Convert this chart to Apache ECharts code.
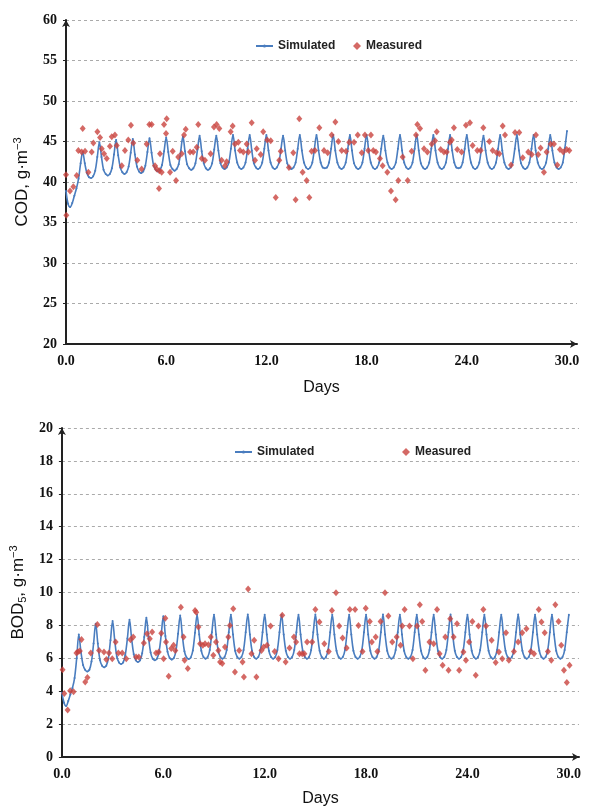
<!DOCTYPE html>
<html>
<head>
<meta charset="utf-8">
<script src="https://cdn.jsdelivr.net/npm/echarts@6/dist/echarts.min.js"></script>
<style>
html,body{margin:0;padding:0;background:#fff;}
#chart{width:592px;height:809px;}
</style>
</head>
<body>
<div id="chart"></div>
<script>
// ---- Data ----
const seriesNames = ['Simulated', 'Measured'];
const xTickLabels = ['0.0', '6.0', '12.0', '18.0', '24.0', '30.0'];
const simStepDays = 0.125; // simulated output every 3 hours

// COD simulated, 8 values per day (day 0 ... day 30)
const codSimulated = [
  38.9, 37.3, 36.9, 37.4, 38.3, 39.2, 40.4, 42.3,
  43.7, 42.3, 41.1, 40.6, 40.5, 40.7, 41.4, 43.1,
  44.9, 43.1, 41.5, 41.0, 40.8, 41.0, 41.7, 43.4,
  45.2, 43.3, 41.8, 41.2, 41.0, 41.2, 41.9, 43.6,
  45.3, 43.4, 41.9, 41.3, 41.1, 41.3, 42.0, 43.7,
  45.4, 43.6, 42.0, 41.5, 41.3, 41.5, 42.1, 43.8,
  45.5, 43.7, 42.1, 41.6, 41.4, 41.6, 42.2, 43.9,
  45.6, 43.8, 42.2, 41.7, 41.5, 41.7, 42.3, 44.0,
  45.7, 43.8, 42.3, 41.7, 41.5, 41.7, 42.3, 44.0,
  45.7, 43.9, 42.3, 41.8, 41.6, 41.8, 42.4, 44.1,
  45.8, 43.9, 42.4, 41.8, 41.6, 41.8, 42.4, 44.1,
  45.8, 43.9, 42.3, 41.8, 41.6, 41.8, 42.4, 44.1,
  45.8, 43.9, 42.4, 41.8, 41.6, 41.8, 42.4, 44.1,
  45.7, 43.9, 42.3, 41.8, 41.6, 41.8, 42.4, 44.1,
  45.8, 43.9, 42.4, 41.8, 41.6, 41.8, 42.4, 44.1,
  45.8, 43.9, 42.4, 41.8, 41.7, 41.8, 42.4, 44.1,
  45.8, 43.9, 42.4, 41.8, 41.6, 41.8, 42.4, 44.1,
  45.8, 43.9, 42.3, 41.8, 41.6, 41.8, 42.4, 44.1,
  45.8, 43.9, 42.4, 41.8, 41.6, 41.8, 42.4, 44.1,
  45.7, 43.9, 42.4, 41.8, 41.6, 41.8, 42.4, 44.1,
  45.8, 43.9, 42.4, 41.8, 41.6, 41.8, 42.4, 44.1,
  45.8, 43.9, 42.3, 41.8, 41.6, 41.8, 42.4, 44.1,
  45.8, 43.9, 42.4, 41.8, 41.6, 41.8, 42.4, 44.1,
  45.8, 43.9, 42.4, 41.8, 41.7, 41.8, 42.4, 44.1,
  45.8, 43.9, 42.4, 41.8, 41.6, 41.8, 42.4, 44.1,
  45.7, 43.9, 42.4, 41.8, 41.6, 41.8, 42.4, 44.1,
  45.8, 43.9, 42.4, 41.8, 41.6, 41.8, 42.4, 44.1,
  45.8, 43.9, 42.3, 41.8, 41.6, 41.8, 42.4, 44.1,
  45.8, 43.9, 42.4, 41.8, 41.6, 41.8, 42.4, 44.1,
  45.8, 43.9, 42.4, 41.8, 41.6, 41.8, 42.4, 44.2,
  46.3
];

// COD measured: sampling day and value
const codMeasuredDays = [
  0.00, 0.02, 0.24, 0.44, 0.64, 0.74, 0.94, 1.00, 1.14, 1.34, 1.54, 1.64, 1.88, 2.04, 2.14, 2.28,
  2.44, 2.63, 2.74, 2.93, 3.04, 3.34, 3.53, 3.73, 3.89, 4.03, 4.27, 4.53, 4.83, 4.99, 5.13, 5.33,
  5.43, 5.57, 5.59, 5.63, 5.73, 5.87, 5.99, 6.03, 6.23, 6.39, 6.59, 6.72, 6.93, 7.07, 7.17, 7.43,
  7.62, 7.83, 7.92, 8.13, 8.32, 8.66, 8.86, 9.02, 9.18, 9.32, 9.52, 9.62, 9.86, 9.98, 10.12, 10.32,
  10.42, 10.62, 10.82, 10.92, 11.12, 11.32, 11.42, 11.66, 11.81, 12.05, 12.26, 12.56, 12.77, 12.86, 13.35, 13.61,
  13.75, 13.97, 14.17, 14.41, 14.57, 14.71, 14.91, 15.17, 15.45, 15.67, 15.91, 16.13, 16.31, 16.51, 16.77, 16.96,
  17.25, 17.47, 17.71, 17.90, 18.10, 18.26, 18.40, 18.56, 18.80, 18.96, 19.24, 19.46, 19.74, 19.90, 20.16, 20.46,
  20.70, 20.96, 21.04, 21.20, 21.44, 21.64, 21.90, 22.10, 22.20, 22.44, 22.63, 22.80, 22.99, 23.10, 23.23, 23.43,
  23.69, 23.95, 24.19, 24.35, 24.63, 24.83, 24.99, 25.35, 25.55, 25.79, 25.95, 26.15, 26.29, 26.65, 26.89, 27.14,
  27.35, 27.68, 27.89, 28.14, 28.28, 28.42, 28.62, 28.78, 29.02, 29.22, 29.42, 29.58, 29.78, 29.98, 30.14
];
const codMeasured = [
  40.9, 35.9, 38.9, 39.4, 40.8, 43.9, 43.7, 46.6, 43.8, 41.2, 43.7, 44.8, 46.2, 45.5, 44.1, 43.5,
  42.9, 44.4, 45.6, 45.8, 44.5, 42.0, 43.9, 45.2, 47.0, 44.8, 42.7, 41.6, 44.7, 47.1, 47.1, 42.0,
  41.6, 39.2, 41.4, 43.5, 41.2, 47.1, 46.0, 47.8, 41.2, 43.8, 40.2, 43.1, 43.5, 45.8, 46.5, 43.7,
  43.7, 44.3, 47.1, 42.9, 42.7, 43.5, 46.8, 47.1, 46.6, 42.7, 42.0, 42.5, 46.2, 46.9, 44.7, 44.9,
  43.9, 43.7, 44.7, 43.7, 47.3, 42.7, 44.1, 43.4, 46.2, 45.2, 45.1, 38.1, 42.7, 43.8, 41.8, 43.6,
  37.8, 47.8, 41.2, 40.2, 38.1, 43.8, 43.9, 46.7, 43.9, 43.6, 45.8, 47.4, 45.0, 43.9, 43.8, 44.9,
  44.9, 45.8, 43.6, 45.8, 43.9, 45.8, 43.9, 43.7, 42.9, 42.0, 41.2, 38.9, 37.8, 40.2, 43.1, 40.2,
  43.8, 45.8, 47.1, 46.6, 44.1, 43.7, 44.7, 45.1, 46.2, 44.0, 43.7, 43.7, 44.9, 45.2, 46.7, 44.0,
  43.7, 47.0, 47.3, 44.5, 43.9, 43.9, 46.7, 45.0, 43.9, 43.6, 43.5, 46.9, 45.8, 42.1, 46.1, 46.1,
  43.0, 43.7, 43.4, 45.8, 43.4, 44.2, 41.2, 43.7, 44.7, 44.7, 42.1, 44.0, 43.7, 44.0, 43.9
];

// BOD5 simulated, 8 values per day (day 0 ... day 30)
const bodSimulated = [
  3.90, 3.30, 3.10, 3.40, 3.80, 4.20, 4.80, 6.00,
  7.45, 6.40, 5.60, 5.30, 5.20, 5.30, 5.80, 6.90,
  8.10, 6.90, 5.90, 5.55, 5.45, 5.55, 6.00, 7.10,
  8.26, 7.10, 6.10, 5.75, 5.65, 5.75, 6.20, 7.20,
  8.34, 7.20, 6.25, 5.88, 5.78, 5.88, 6.30, 7.30,
  8.47, 7.30, 6.35, 5.98, 5.88, 5.98, 6.40, 7.40,
  8.55, 7.35, 6.40, 6.02, 5.92, 6.02, 6.45, 7.50,
  8.60, 7.40, 6.43, 6.05, 5.95, 6.05, 6.48, 7.55,
  8.65, 7.45, 6.46, 6.08, 5.98, 6.08, 6.50, 7.58,
  8.65, 7.45, 6.46, 6.08, 5.98, 6.08, 6.50, 7.58,
  8.65, 7.45, 6.46, 6.08, 5.98, 6.08, 6.50, 7.58,
  8.66, 7.45, 6.46, 6.08, 5.98, 6.08, 6.50, 7.58,
  8.65, 7.45, 6.46, 6.08, 5.98, 6.08, 6.50, 7.58,
  8.65, 7.45, 6.46, 6.08, 5.98, 6.08, 6.50, 7.58,
  8.65, 7.45, 6.46, 6.08, 5.98, 6.08, 6.50, 7.58,
  8.66, 7.45, 6.46, 6.08, 5.98, 6.08, 6.50, 7.58,
  8.65, 7.45, 6.46, 6.08, 5.98, 6.08, 6.50, 7.58,
  8.65, 7.45, 6.46, 6.08, 5.98, 6.08, 6.50, 7.58,
  8.65, 7.45, 6.46, 6.08, 5.98, 6.08, 6.50, 7.58,
  8.66, 7.45, 6.46, 6.08, 5.98, 6.08, 6.50, 7.58,
  8.65, 7.45, 6.46, 6.08, 5.98, 6.08, 6.50, 7.58,
  8.65, 7.45, 6.46, 6.08, 5.98, 6.08, 6.50, 7.58,
  8.65, 7.45, 6.46, 6.08, 5.98, 6.08, 6.50, 7.58,
  8.66, 7.45, 6.46, 6.08, 5.98, 6.08, 6.50, 7.58,
  8.65, 7.45, 6.46, 6.08, 5.98, 6.08, 6.50, 7.58,
  8.65, 7.45, 6.46, 6.08, 5.98, 6.08, 6.50, 7.58,
  8.65, 7.45, 6.46, 6.08, 5.98, 6.08, 6.50, 7.58,
  8.66, 7.45, 6.46, 6.08, 5.98, 6.08, 6.50, 7.58,
  8.65, 7.45, 6.46, 6.08, 5.98, 6.08, 6.50, 7.58,
  8.65, 7.45, 6.46, 6.08, 5.98, 6.08, 6.50, 7.58,
  8.65
];

// BOD5 measured: sampling day and value
const bodMeasuredDays = [
  0.04, 0.14, 0.34, 0.49, 0.69, 0.86, 0.95, 1.06, 1.16, 1.38, 1.51, 1.71, 2.10, 2.20, 2.49, 2.63,
  2.79, 2.98, 3.18, 3.34, 3.57, 3.81, 4.06, 4.22, 4.39, 4.55, 4.85, 5.04, 5.20, 5.34, 5.57, 5.73,
  5.88, 6.02, 6.12, 6.16, 6.32, 6.47, 6.61, 6.71, 7.04, 7.20, 7.26, 7.45, 7.88, 7.95, 8.08, 8.18,
  8.34, 8.47, 8.67, 8.81, 8.96, 9.12, 9.26, 9.36, 9.49, 9.65, 9.85, 9.94, 10.14, 10.24, 10.49, 10.69,
  10.77, 11.02, 11.22, 11.38, 11.51, 11.81, 11.94, 12.14, 12.35, 12.59, 12.82, 13.04, 13.24, 13.47, 13.73, 13.86,
  14.06, 14.22, 14.35, 14.51, 14.81, 15.00, 15.24, 15.53, 15.79, 15.98, 16.22, 16.41, 16.61, 16.85, 17.04, 17.35,
  17.55, 17.79, 17.98, 18.22, 18.34, 18.57, 18.67, 18.86, 19.12, 19.32, 19.55, 19.81, 20.04, 20.14, 20.28, 20.57,
  20.77, 21.02, 21.18, 21.32, 21.51, 21.75, 22.00, 22.20, 22.35, 22.53, 22.69, 22.88, 22.98, 23.18, 23.38, 23.51,
  23.76, 23.91, 24.10, 24.29, 24.49, 24.65, 24.94, 25.10, 25.43, 25.67, 25.86, 26.06, 26.28, 26.45, 26.75, 27.00,
  27.24, 27.49, 27.75, 27.94, 28.22, 28.38, 28.57, 28.76, 28.96, 29.20, 29.39, 29.55, 29.71, 29.88, 30.04
];
const bodMeasured = [
  5.30, 3.86, 2.85, 4.02, 3.96, 6.32, 6.40, 6.44, 7.15, 4.56, 4.83, 6.32, 8.06, 6.48, 6.38, 5.92,
  6.32, 5.98, 6.99, 6.32, 6.32, 5.98, 7.13, 7.29, 6.08, 6.08, 6.93, 7.50, 7.19, 7.60, 6.32, 6.38,
  7.53, 5.98, 8.44, 6.99, 4.91, 6.59, 6.79, 6.48, 9.11, 7.29, 5.88, 5.38, 8.91, 8.80, 7.90, 6.89,
  6.79, 6.89, 6.83, 7.29, 6.18, 6.99, 6.48, 5.78, 5.68, 6.69, 7.29, 8.00, 9.01, 5.17, 6.48, 5.78,
  4.87, 10.22, 6.28, 7.09, 4.87, 6.48, 6.69, 6.79, 7.96, 6.42, 5.98, 8.61, 5.78, 6.63, 7.29, 6.99,
  6.28, 6.28, 6.28, 6.99, 6.99, 8.97, 8.20, 6.89, 6.42, 8.91, 9.98, 7.96, 7.23, 6.63, 8.97, 8.97,
  8.00, 6.42, 9.05, 8.24, 6.99, 7.29, 6.42, 8.24, 9.98, 8.57, 6.99, 7.29, 6.79, 7.96, 8.97, 7.96,
  5.98, 7.96, 9.25, 8.24, 5.27, 6.99, 6.89, 8.97, 6.28, 5.58, 7.29, 5.27, 8.40, 7.29, 8.10, 5.27,
  6.38, 5.88, 6.99, 8.24, 4.97, 7.96, 8.97, 7.96, 7.09, 5.74, 6.38, 5.98, 7.56, 5.88, 6.42, 6.99,
  7.56, 7.80, 6.42, 6.28, 8.97, 8.20, 7.56, 6.42, 5.88, 9.25, 8.24, 6.79, 5.27, 4.53, 5.58
];

// ---- Build chart ----
const blue = '#4a7dbf';
const red = '#c9443f';
const tickFont = { fontFamily: 'Liberation Serif', fontWeight: 'bold', fontSize: 14, color: '#111' };
const zip = (xs, ys) => ys.map((v, i) => [xs[i], v]);
const simPairs = vals => vals.map((v, i) => [i * simStepDays, v]);
const xTickValues = xTickLabels.map(Number);

function xAxisCfg(gridIndex, nameGap) {
  return {
    gridIndex, type: 'value', min: 0, max: 30.6, interval: 6,
    name: 'Days', nameLocation: 'middle', nameGap,
    nameTextStyle: { fontFamily: 'Liberation Sans', fontSize: 16, color: '#111' },
    axisLine: { show: true, lineStyle: { color: '#222', width: 2 }, symbol: ['none', 'arrow'], symbolSize: [6, 7] },
    axisTick: { show: false },
    splitLine: { show: false },
    axisLabel: Object.assign({}, tickFont, {
      margin: 10, showMaxLabel: true,
      formatter: v => {
        const idx = xTickValues.findIndex(t => Math.abs(t - v) < 1e-6);
        return idx >= 0 ? xTickLabels[idx] : '';
      }
    })
  };
}
function yAxisCfg(gridIndex, min, max, interval, name, nameGap, rich) {
  return {
    gridIndex, type: 'value', min, max, interval,
    name, nameLocation: 'middle', nameGap,
    nameTextStyle: { fontFamily: 'Liberation Sans', fontSize: 17, color: '#111', lineHeight: 20, rich },
    axisLine: { show: true, lineStyle: { color: '#222', width: 2 }, symbol: ['none', 'arrow'], symbolSize: [6, 7] },
    axisTick: { show: true, length: 3, lineStyle: { color: '#222' } },
    splitLine: { show: true, lineStyle: { color: '#aaa', type: [3, 3], width: 1 } },
    axisLabel: Object.assign({}, tickFont, { margin: 9 })
  };
}
const richName = {
  sup: { fontFamily: 'Liberation Sans', fontSize: 11, color: '#111', verticalAlign: 'top', lineHeight: 20 },
  sub: { fontFamily: 'Liberation Sans', fontSize: 11, color: '#111', verticalAlign: 'bottom', lineHeight: 20 }
};
const legendText = { fontFamily: 'Liberation Sans', fontWeight: 'bold', fontSize: 12, color: '#222' };
function legendCfg(name, left, top, w, h) {
  return { left, top, itemWidth: w, itemHeight: h, data: [name], textStyle: legendText, itemGap: 0 };
}

const chart = echarts.init(document.getElementById('chart'), null, { renderer: 'canvas' });
chart.setOption({
  animation: false,
  backgroundColor: '#fff',
  grid: [
    { left: 66, top: 20, width: 511, height: 324 },
    { left: 59, top: 428, width: 520, height: 329 }
  ],
  legend: [
    legendCfg(seriesNames[0], 250, 35, 17, 4),
    legendCfg(seriesNames[1], 348, 35, 8, 8),
    legendCfg(seriesNames[0], 229, 441, 17, 4),
    legendCfg(seriesNames[1], 397, 441, 8, 8)
  ],
  xAxis: [xAxisCfg(0, 36), xAxisCfg(1, 34)],
  yAxis: [
    yAxisCfg(0, 20, 60, 5, 'COD, g·m{sup|−3}', 34, richName),
    yAxisCfg(1, 0, 20, 2, 'BOD{sub|5}, g·m{sup|−3}', 27, richName)
  ],
  series: [
    {
      name: seriesNames[0], type: 'line', xAxisIndex: 0, yAxisIndex: 0,
      data: simPairs(codSimulated), smooth: 0.35,
      symbol: 'circle', symbolSize: 2, showSymbol: true, showAllSymbol: true,
      itemStyle: { color: blue }, lineStyle: { color: blue, width: 1.6 }, z: 2
    },
    {
      name: seriesNames[1], type: 'scatter', xAxisIndex: 0, yAxisIndex: 0,
      data: zip(codMeasuredDays, codMeasured),
      symbol: 'diamond', symbolSize: [6, 7], itemStyle: { color: red }, z: 3
    },
    {
      name: seriesNames[0], type: 'line', xAxisIndex: 1, yAxisIndex: 1,
      data: simPairs(bodSimulated), smooth: 0.35,
      symbol: 'circle', symbolSize: 2, showSymbol: true, showAllSymbol: true,
      itemStyle: { color: blue }, lineStyle: { color: blue, width: 1.6 }, z: 2
    },
    {
      name: seriesNames[1], type: 'scatter', xAxisIndex: 1, yAxisIndex: 1,
      data: zip(bodMeasuredDays, bodMeasured),
      symbol: 'diamond', symbolSize: [6, 7], itemStyle: { color: red }, z: 3
    }
  ]
});
</script>
</body>
</html>
